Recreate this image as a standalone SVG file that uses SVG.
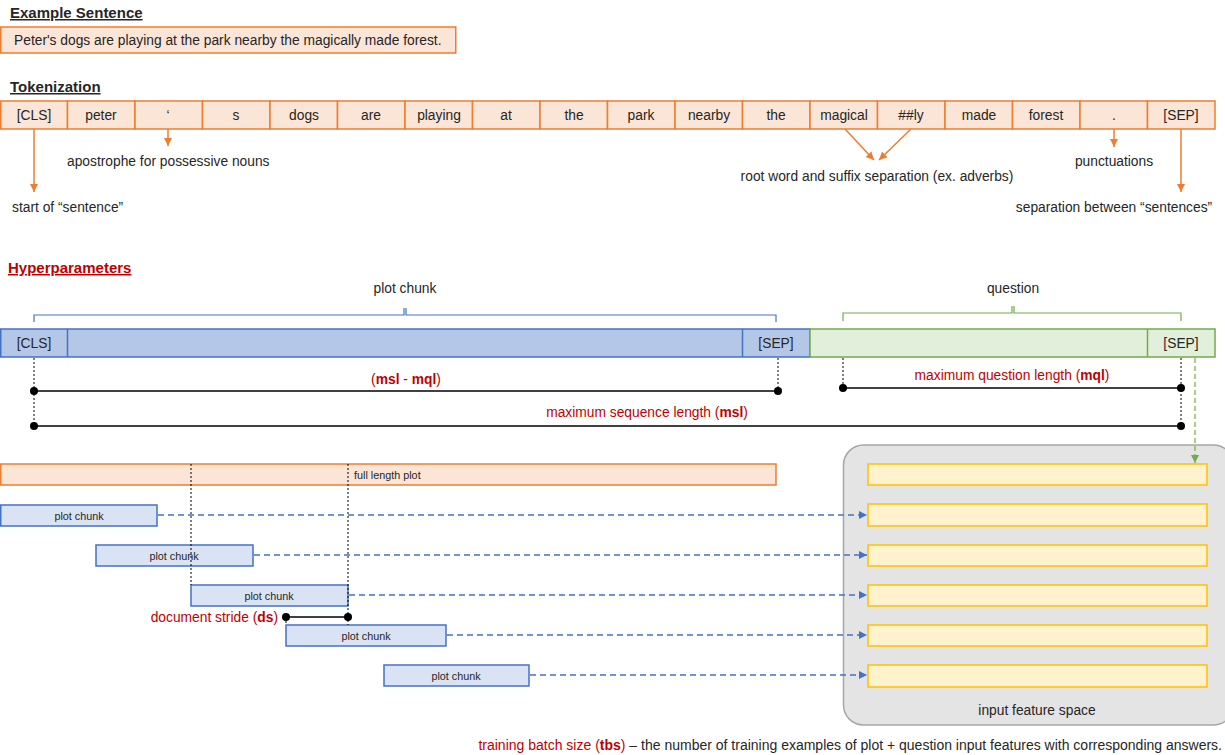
<svg xmlns="http://www.w3.org/2000/svg" width="1225" height="755" viewBox="0 0 1225 755">
<defs>
<style>
text{font-family:"Liberation Sans",Arial,sans-serif;fill:#262626}
.h{font-size:15px;font-weight:bold;text-decoration:underline}
.t{font-size:13.8px}
.s{font-size:10.8px}
.red{fill:#C00000}
.b{font-weight:bold}
.org{fill:#FBE5D6;stroke:#ED7D31;stroke-width:1.5}
.blu{fill:#B4C7E7;stroke:#4472C4;stroke-width:1.5}
.grn{fill:#E2EFDA;stroke:#70AD47;stroke-width:1.5}
.chunk{fill:#DAE3F3;stroke:#4472C4;stroke-width:1.5}
.yel{fill:#FFF2CC;stroke:#FFC000;stroke-width:1.5}
.oa{stroke:#ED7D31;stroke-width:1.5;fill:none}
.dot{stroke:#000;stroke-width:1;stroke-dasharray:2,2;fill:none}
.dim{stroke:#000;stroke-width:1.5;fill:none}
.bd{stroke:#4472C4;stroke-width:1.5;stroke-dasharray:6,4;fill:none}
</style>
<marker id="ao" markerWidth="10" markerHeight="10" refX="8" refY="4" orient="auto" markerUnits="userSpaceOnUse"><path d="M0,0 L8,4 L0,8 z" fill="#ED7D31"/></marker>
<marker id="ab" markerWidth="10" markerHeight="10" refX="8" refY="4" orient="auto" markerUnits="userSpaceOnUse"><path d="M0,0 L8,4 L0,8 z" fill="#4472C4"/></marker>
<marker id="ag" markerWidth="10" markerHeight="10" refX="8" refY="4" orient="auto" markerUnits="userSpaceOnUse"><path d="M0,0 L8,4 L0,8 z" fill="#70AD47"/></marker>
<marker id="dt" markerWidth="10" markerHeight="10" refX="5" refY="5" orient="auto" markerUnits="userSpaceOnUse"><circle cx="5" cy="5" r="4" fill="#000"/></marker>
</defs>

<g id="title-example"><text class="h" x="10" y="18">Example Sentence</text></g>
<g id="sentence">
<rect class="org" x="0.75" y="27" width="455" height="26"/>
<text class="t" x="14" y="45">Peter's dogs are playing at the park nearby the magically made forest.</text>
</g>

<g id="title-token"><text class="h" x="10" y="92">Tokenization</text></g>
<g id="tokens" class="t" text-anchor="middle">
<rect class="org" x="0.75" y="101" width="66.75" height="28"/><text x="34" y="120">[CLS]</text>
<rect class="org" x="67.5" y="101" width="67.5" height="28"/><text x="101" y="120">peter</text>
<rect class="org" x="135" y="101" width="67.5" height="28"/><text x="168" y="120">‘</text>
<rect class="org" x="202.5" y="101" width="67.5" height="28"/><text x="236" y="120">s</text>
<rect class="org" x="270" y="101" width="67.5" height="28"/><text x="304" y="120">dogs</text>
<rect class="org" x="337.5" y="101" width="67.5" height="28"/><text x="371" y="120">are</text>
<rect class="org" x="405" y="101" width="67.5" height="28"/><text x="439" y="120">playing</text>
<rect class="org" x="472.5" y="101" width="67.5" height="28"/><text x="506" y="120">at</text>
<rect class="org" x="540" y="101" width="67.5" height="28"/><text x="574" y="120">the</text>
<rect class="org" x="607.5" y="101" width="67.5" height="28"/><text x="641" y="120">park</text>
<rect class="org" x="675" y="101" width="67.5" height="28"/><text x="709" y="120">nearby</text>
<rect class="org" x="742.5" y="101" width="67.5" height="28"/><text x="776" y="120">the</text>
<rect class="org" x="810" y="101" width="67.5" height="28"/><text x="844" y="120">magical</text>
<rect class="org" x="877.5" y="101" width="67.5" height="28"/><text x="911" y="120">##ly</text>
<rect class="org" x="945" y="101" width="67.5" height="28"/><text x="979" y="120">made</text>
<rect class="org" x="1012.5" y="101" width="67.5" height="28"/><text x="1046" y="120">forest</text>
<rect class="org" x="1080" y="101" width="67.5" height="28"/><text x="1114" y="120">.</text>
<rect class="org" x="1147.5" y="101" width="67.5" height="28"/><text x="1181" y="120">[SEP]</text>
</g>

<g id="token-arrows">
<line class="oa" x1="34" y1="129" x2="34" y2="192" marker-end="url(#ao)"/>
<line class="oa" x1="168" y1="129" x2="168" y2="146" marker-end="url(#ao)"/>
<line class="oa" x1="845" y1="129" x2="874" y2="160" marker-end="url(#ao)"/>
<line class="oa" x1="911" y1="129" x2="879" y2="160" marker-end="url(#ao)"/>
<line class="oa" x1="1114" y1="129" x2="1114" y2="147" marker-end="url(#ao)"/>
<line class="oa" x1="1181" y1="129" x2="1181" y2="192" marker-end="url(#ao)"/>
</g>
<g id="token-notes" class="t">
<text x="12" y="212">start of “sentence”</text>
<text x="67" y="166">apostrophe for possessive nouns</text>
<text x="877" y="181" text-anchor="middle">root word and suffix separation (ex. adverbs)</text>
<text x="1114" y="166" text-anchor="middle">punctuations</text>
<text x="1114" y="212" text-anchor="middle">separation between “sentences”</text>
</g>

<g id="title-hyper"><text class="h red" x="8" y="273">Hyperparameters</text></g>

<g id="brackets">
<path d="M34,322 V315 H404 V308 M406,308 V315 H776 V322" stroke="#4472C4" stroke-width="1.2" fill="none"/>
<text class="t" x="405" y="293" text-anchor="middle">plot chunk</text>
<path d="M843,321 V313 H1012 V306 M1014,306 V313 H1181 V321" stroke="#70AD47" stroke-width="1.2" fill="none"/>
<text class="t" x="1013" y="293" text-anchor="middle">question</text>
</g>

<g id="sequence" class="t" text-anchor="middle">
<rect class="blu" x="0.75" y="329" width="809.25" height="28"/>
<line x1="67.5" y1="329" x2="67.5" y2="357" stroke="#4472C4" stroke-width="1.5"/>
<line x1="742.5" y1="329" x2="742.5" y2="357" stroke="#4472C4" stroke-width="1.5"/>
<text x="34" y="348">[CLS]</text>
<text x="776" y="348">[SEP]</text>
<rect class="grn" x="810" y="329" width="405" height="28"/>
<line x1="1147.5" y1="329" x2="1147.5" y2="357" stroke="#70AD47" stroke-width="1.5"/>
<text x="1181" y="348">[SEP]</text>
</g>

<g id="dimensions">
<line class="dot" x1="34" y1="358" x2="34" y2="426"/>
<line class="dot" x1="778" y1="358" x2="778" y2="391"/>
<line class="dot" x1="843" y1="358" x2="843" y2="388"/>
<line class="dot" x1="1181" y1="358" x2="1181" y2="426"/>
<line class="dim" x1="34" y1="391" x2="778" y2="391" marker-start="url(#dt)" marker-end="url(#dt)"/>
<line class="dim" x1="843" y1="388" x2="1181" y2="388" marker-start="url(#dt)" marker-end="url(#dt)"/>
<line class="dim" x1="34" y1="426" x2="1181" y2="426" marker-start="url(#dt)" marker-end="url(#dt)"/>
<text class="t red" x="406" y="384" text-anchor="middle">(<tspan class="b">msl</tspan> - <tspan class="b">mql</tspan>)</text>
<text class="t red" x="1012" y="380" text-anchor="middle">maximum question length (<tspan class="b">mql</tspan>)</text>
<text class="t red" x="647" y="417" text-anchor="middle">maximum sequence length (<tspan class="b">msl</tspan>)</text>
</g>

<g id="feature-space">
<rect x="843.5" y="445" width="390" height="280" rx="20" fill="#E4E4E4" stroke="#A6A6A6" stroke-width="1.5"/>
<rect class="yel" x="868" y="464" width="339" height="21"/>
<rect class="yel" x="868" y="504" width="339" height="22"/>
<rect class="yel" x="868" y="545" width="339" height="21"/>
<rect class="yel" x="868" y="585" width="339" height="21"/>
<rect class="yel" x="868" y="625" width="339" height="21"/>
<rect class="yel" x="868" y="665" width="339" height="22"/>
<text class="t" x="1037" y="715" text-anchor="middle">input feature space</text>
</g>

<g id="full-plot">
<rect class="org" x="0.75" y="464" width="775.25" height="21"/>
<text class="s" x="354" y="479">full length plot</text>
</g>

<g id="chunks" class="s" text-anchor="middle">
<rect class="chunk" x="0.75" y="505" width="156.25" height="21"/><text x="79" y="519.5">plot chunk</text>
<rect class="chunk" x="96" y="545" width="157" height="21"/><text x="174" y="559.5">plot chunk</text>
<rect class="chunk" x="191" y="585" width="157" height="21"/><text x="269" y="599.5">plot chunk</text>
<rect class="chunk" x="286" y="625" width="160" height="21"/><text x="366" y="639.5">plot chunk</text>
<rect class="chunk" x="384" y="665" width="145" height="21"/><text x="456" y="680">plot chunk</text>
</g>

<g id="stride">
<line class="dot" x1="191" y1="464" x2="191" y2="585"/>
<line class="dot" x1="348" y1="464" x2="348" y2="625"/>
<line class="dot" x1="286" y1="617" x2="286" y2="625"/>
<line class="dim" x1="286" y1="617" x2="348" y2="617" marker-start="url(#dt)" marker-end="url(#dt)"/>
<text class="t red" x="278" y="622" text-anchor="end">document stride (<tspan class="b">ds</tspan>)</text>
</g>

<g id="connectors">
<line class="bd" x1="158" y1="515" x2="867" y2="515" marker-end="url(#ab)"/>
<line class="bd" x1="254" y1="555" x2="867" y2="555" marker-end="url(#ab)"/>
<line class="bd" x1="349" y1="595" x2="867" y2="595" marker-end="url(#ab)"/>
<line class="bd" x1="447" y1="635" x2="867" y2="635" marker-end="url(#ab)"/>
<line class="bd" x1="530" y1="675" x2="867" y2="675" marker-end="url(#ab)"/>
<line x1="1195" y1="358" x2="1195" y2="463" stroke="#70AD47" stroke-width="1.2" stroke-dasharray="5,3" marker-end="url(#ag)"/>
</g>

<g id="footer">
<text class="t" x="1222" y="750" text-anchor="end" style="font-size:14px"><tspan class="red">training batch size (</tspan><tspan class="red b">tbs</tspan><tspan class="red">)</tspan> – the number of training examples of plot + question input features with corresponding answers.</text>
</g>
</svg>
